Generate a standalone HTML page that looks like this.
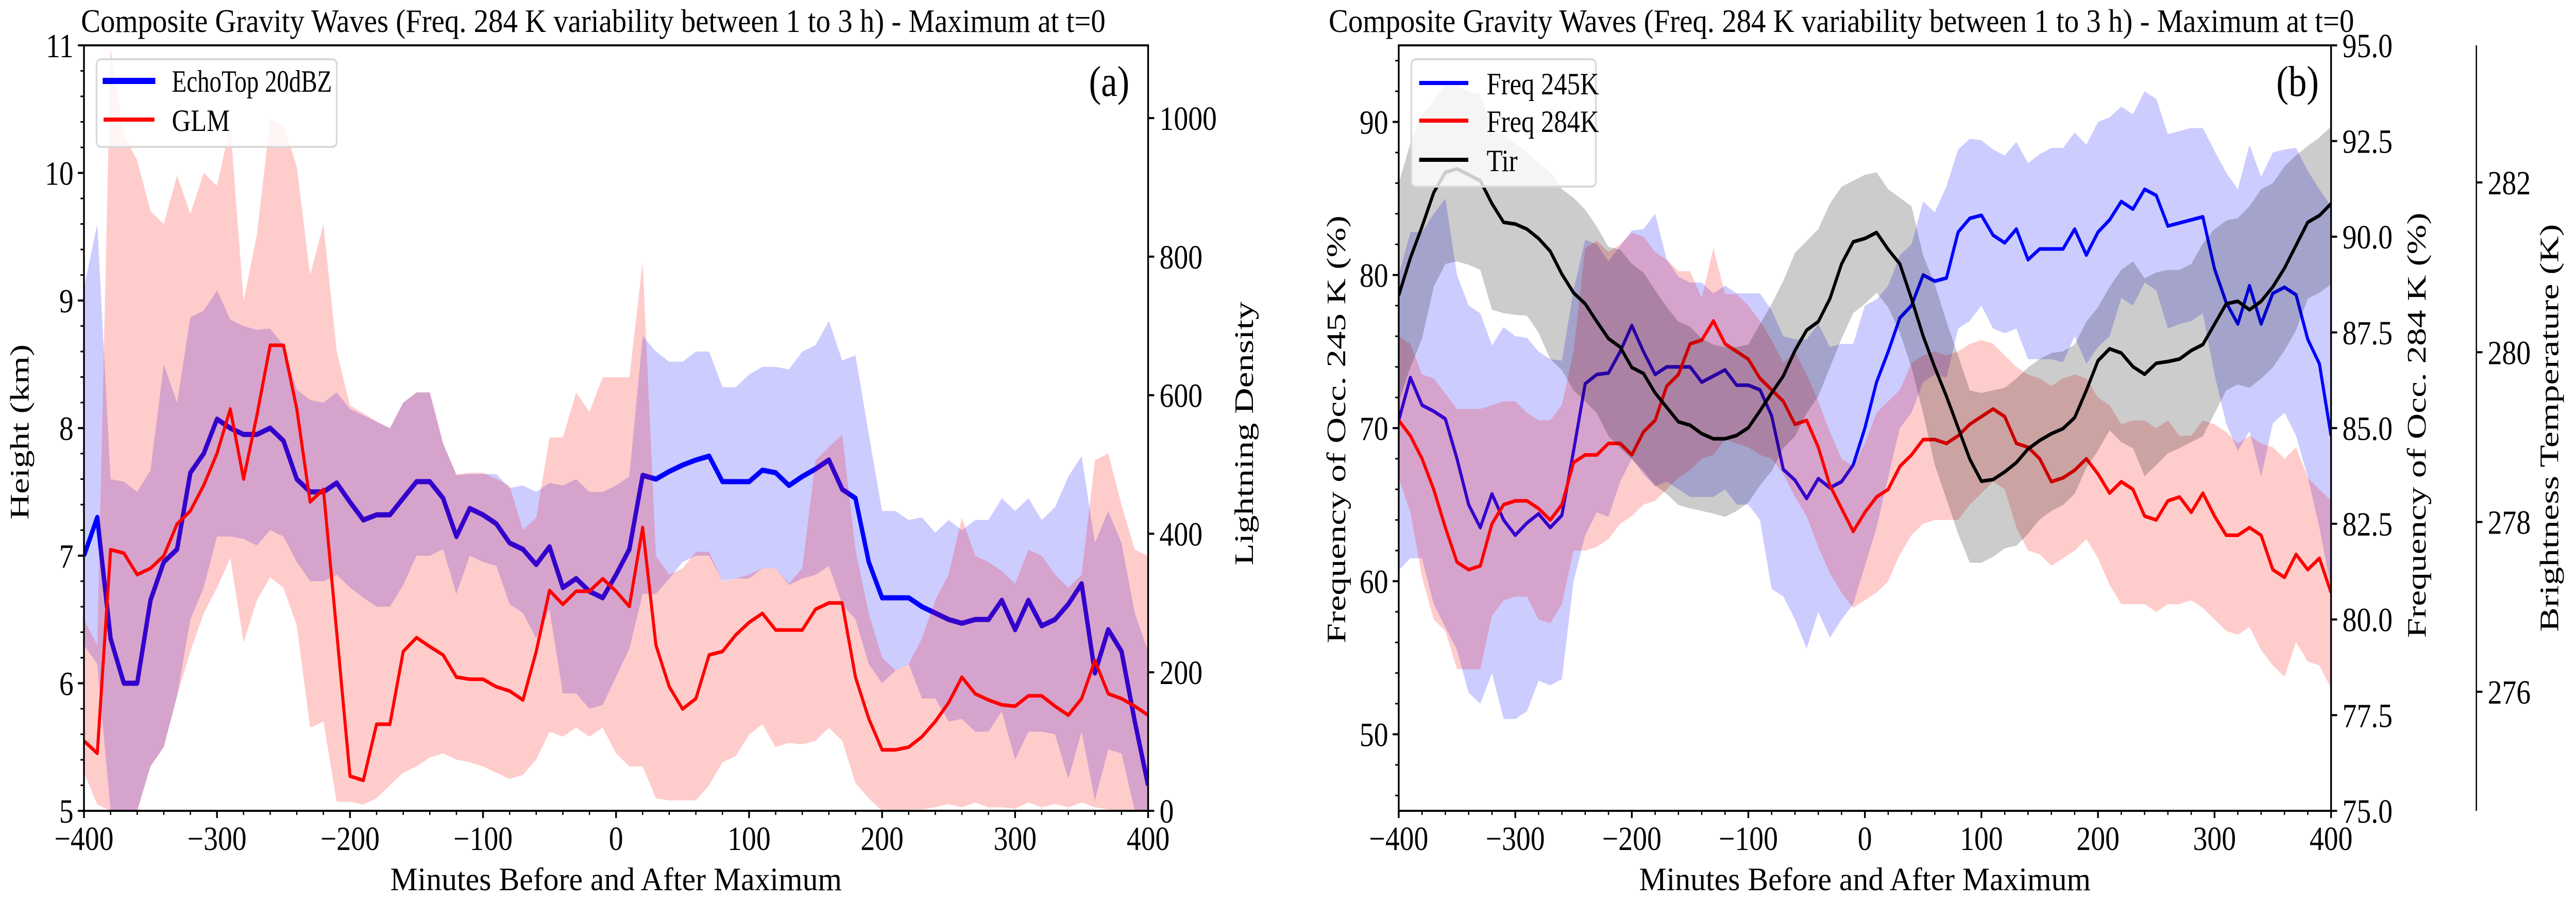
<!DOCTYPE html>
<html><head><meta charset="utf-8"><style>
html,body{margin:0;padding:0;background:#fff;width:100%;height:100%;overflow:hidden;}
svg{display:block;width:100vw;height:100vh;font-family:"Liberation Serif","DejaVu Serif",serif;}
</style></head><body>
<svg id="fig" viewBox="0 0 5921 1746" preserveAspectRatio="none" xmlns="http://www.w3.org/2000/svg">
<rect x="0" y="0" width="5921" height="1746" fill="#fff"/>
<g id="pa"></g>
<g id="pb"></g>
</svg>
<script>
// ---- shared x categories (minutes) ----
const minutes = [];
for (let t = -400; t <= 400; t += 10) minutes.push(t);

// ---- Panel (a) data ----
const echoMean = [7.0,7.3,6.35,6.0,6.0,6.65,6.95,7.05,7.65,7.8,8.07,8.0,7.95,7.95,8.0,7.9,7.6,7.5,7.5,7.57,7.42,7.28,7.32,7.32,7.45,7.58,7.58,7.45,7.15,7.37,7.32,7.25,7.1,7.05,6.93,7.07,6.75,6.82,6.72,6.67,6.85,7.05,7.63,7.6,7.66,7.71,7.75,7.78,7.58,7.58,7.58,7.67,7.65,7.55,7.62,7.68,7.75,7.52,7.45,6.95,6.67,6.67,6.67,6.6,6.55,6.5,6.47,6.5,6.5,6.65,6.42,6.65,6.45,6.5,6.62,6.78,6.08,6.42,6.25,5.7,5.2];
const echoUpper = [9.1,9.6,7.6,7.58,7.5,7.67,8.5,8.2,8.87,8.92,9.08,8.85,8.8,8.77,8.78,8.65,8.3,8.22,8.2,8.28,8.15,8.1,8.05,8.0,8.2,8.28,8.28,7.88,7.63,7.64,7.64,7.64,7.53,7.55,7.5,7.57,7.55,7.6,7.5,7.5,7.55,7.62,8.72,8.6,8.52,8.52,8.6,8.6,8.32,8.32,8.42,8.48,8.48,8.46,8.6,8.65,8.84,8.53,8.57,7.95,7.35,7.35,7.28,7.3,7.18,7.28,7.2,7.28,7.28,7.45,7.35,7.45,7.28,7.38,7.62,7.78,7.1,7.35,7.1,6.55,6.25];
const echoLower = [6.3,6.15,5.0,5.0,5.0,5.35,5.5,5.9,6.5,6.75,7.15,7.15,7.13,7.08,7.2,7.15,6.95,6.8,6.8,6.85,6.75,6.67,6.6,6.6,6.77,7.0,7.0,7.05,6.7,7.0,6.95,6.92,6.62,6.55,6.35,6.58,5.92,5.92,5.8,5.83,6.05,6.27,6.7,6.7,6.82,6.95,7.0,7.0,6.8,6.82,6.82,6.9,6.9,6.77,6.82,6.85,6.92,6.62,6.5,6.15,6.0,6.1,6.15,5.88,5.88,5.7,5.72,5.62,5.62,5.78,5.4,5.62,5.62,5.6,5.25,5.62,5.08,5.48,5.45,5.0,5.0];
const glmMean = [101,83,377,372,341,350,368,414,433,470,516,580,479,571,672,672,580,446,464,258,50,44,125,125,230,250,237,225,193,190,190,179,173,160,230,318,298,317,317,335,317,295,409,239,179,147,162,225,230,254,272,285,261,261,261,291,300,300,193,133,88,88,92,107,129,156,193,169,160,153,151,166,166,151,138,162,217,169,162,151,138];
const glmUpper = [276,239,1100,976,939,866,847,917,862,921,902,990,736,832,998,990,930,773,847,663,585,574,562,552,589,604,604,530,486,488,488,479,469,405,423,539,539,604,576,626,626,626,792,368,341,350,374,374,331,335,341,350,350,328,350,506,525,543,377,285,221,203,212,249,304,341,423,368,359,346,328,377,368,341,322,341,506,516,442,377,368];
const glmLower = [55,9,0,0,0,64,92,166,230,285,322,365,243,304,337,322,267,120,129,13,13,9,18,37,55,64,77,83,74,70,64,55,46,52,74,114,107,120,107,120,83,64,64,18,15,15,15,37,70,79,110,125,92,98,96,101,120,101,40,18,0,0,2,2,5,10,5,12,5,5,3,12,5,10,5,12,5,2,0,0,0];
const aXTicks = [-400,-300,-200,-100,0,100,200,300,400];
const aYTicks = [5,6,7,8,9,10,11];
const aY2Ticks = [0,200,400,600,800,1000];

// ---- Panel (b) data ----
const f245Mean = [70.5,73.3,71.5,71.1,70.6,68.0,65.0,63.5,65.7,64.0,63.0,63.8,64.4,63.5,64.3,68.5,72.9,73.5,73.6,75.0,76.7,75.0,73.5,74.0,74.0,74.0,73.0,73.4,73.8,72.8,72.8,72.5,70.8,67.3,66.6,65.4,66.7,66.1,66.5,67.6,70.0,73.0,75.0,77.2,78.0,80.0,79.6,79.8,82.8,83.7,83.9,82.6,82.1,83.0,81.0,81.7,81.7,81.7,83.0,81.3,82.8,83.6,84.8,84.3,85.6,85.2,83.2,83.4,83.6,83.8,80.4,78.2,76.8,79.3,76.8,78.8,79.2,78.7,75.8,74.2,69.5];
const f245Upper = [80.0,82.8,82.8,84.0,85.0,80.0,78.0,77.5,75.4,76.6,76.0,75.9,75.0,74.5,74.4,79.0,82.3,82.0,80.9,81.9,82.9,83.0,84.0,81.0,79.9,79.5,79.5,78.8,79.3,78.8,78.8,78.8,77.7,76.0,75.8,75.8,76.8,75.3,75.5,75.5,78.0,78.4,79.3,81.3,82.0,84.8,84.1,85.8,88.2,88.9,88.8,88.2,87.8,88.7,87.3,87.9,88.3,88.3,89.3,88.5,90.0,90.3,91.0,90.5,92.0,91.5,89.2,89.4,89.6,89.6,88.1,86.7,85.6,88.5,86.4,88.0,88.2,88.3,86.8,85.6,84.5];
const f245Lower = [60.7,61.5,61.5,58.5,57.0,55.5,52.7,52.0,54.0,51.0,51.0,51.5,53.5,53.2,53.6,60.0,63.0,64.5,64.2,66.5,68.0,67.0,66.2,66.5,66.0,65.5,65.5,65.5,66.0,65.0,65.0,64.0,59.5,59.0,57.5,55.6,58.0,56.3,57.5,58.5,61.0,63.5,66.8,70.0,71.0,73.0,73.5,73.3,76.5,77.0,78.0,76.5,76.2,76.5,74.5,74.5,74.5,74.3,76.0,74.2,75.3,76.0,78.5,78.0,79.5,79.0,76.5,76.8,77.0,77.5,73.5,70.3,68.5,69.8,66.8,70.3,71.0,69.5,66.8,63.5,59.5];
const f284Mean = [85.2,84.8,84.2,83.4,82.4,81.5,81.3,81.4,82.5,83.0,83.1,83.1,82.9,82.6,83.0,84.1,84.3,84.3,84.6,84.6,84.3,84.9,85.2,86.1,86.4,87.2,87.3,87.8,87.2,87.0,86.8,86.3,86.0,85.7,85.1,85.2,84.5,83.5,82.9,82.3,82.8,83.2,83.4,84.0,84.3,84.7,84.7,84.6,84.8,85.1,85.3,85.5,85.3,84.6,84.5,84.2,83.6,83.7,83.9,84.2,83.8,83.3,83.6,83.4,82.7,82.6,83.1,83.2,82.8,83.3,82.7,82.2,82.2,82.4,82.2,81.3,81.1,81.7,81.3,81.6,80.7];
const f284Upper = [87.4,87.2,86.4,86.3,85.9,85.5,85.5,85.5,85.6,85.7,85.7,85.4,85.2,85.2,85.6,87.0,89.7,89.9,89.6,89.8,90.1,90.0,89.6,89.4,89.1,89.1,88.4,89.7,88.5,88.5,88.2,87.8,87.3,86.7,87.0,86.4,85.7,84.9,84.2,84.0,84.6,85.4,85.7,86.0,86.7,86.9,87.0,86.9,87.0,87.2,87.3,87.2,86.9,86.6,86.4,86.3,86.1,86.3,86.4,86.3,85.8,85.6,85.1,85.2,85.2,85.0,85.2,84.8,84.8,85.2,85.1,84.9,84.6,84.8,84.6,84.5,84.2,84.5,83.7,83.4,83.1];
const f284Lower = [83.7,82.8,81.1,80.0,79.7,78.7,78.7,78.7,80.1,80.5,80.6,80.6,80.0,79.9,80.4,81.8,81.8,81.9,82.1,82.5,82.7,83.0,83.1,83.4,83.7,83.9,84.2,84.3,84.7,84.6,84.5,84.3,84.2,83.8,83.2,82.7,81.9,81.2,80.7,80.3,80.5,80.7,81.0,81.7,82.2,82.5,82.6,82.6,82.6,83.0,83.3,83.6,83.4,82.4,81.8,81.7,81.4,81.6,81.8,82.1,81.6,80.9,80.4,80.4,80.4,80.2,80.4,80.4,80.5,80.3,80.0,79.7,79.6,79.8,79.2,78.8,78.5,79.4,78.9,78.8,78.2];
const tirMean = [280.67,281.11,281.48,281.88,282.12,282.16,282.09,282.02,281.75,281.53,281.51,281.45,281.34,281.19,280.92,280.70,280.57,280.36,280.16,280.06,279.82,279.75,279.52,279.35,279.18,279.14,279.04,278.98,278.98,279.02,279.11,279.31,279.52,279.72,280.02,280.26,280.36,280.63,281.04,281.30,281.34,281.41,281.21,281.04,280.63,280.19,279.82,279.48,279.11,278.74,278.48,278.50,278.59,278.70,278.86,278.96,279.04,279.10,279.23,279.55,279.90,280.04,279.99,279.83,279.74,279.87,279.89,279.92,280.02,280.09,280.33,280.57,280.60,280.50,280.60,280.77,280.99,281.26,281.53,281.61,281.75];
const tirUpper = [281.99,282.46,282.80,282.97,283.14,283.14,283.07,283.04,282.63,282.56,282.46,282.36,282.22,282.12,281.92,281.82,281.68,281.48,281.24,281.21,281.04,280.94,280.73,280.53,280.36,280.30,280.16,280.09,280.06,280.06,280.09,280.33,280.57,280.84,281.17,281.31,281.45,281.75,281.95,282.02,282.09,282.12,281.92,281.82,281.72,281.14,280.80,280.36,279.96,279.55,279.52,279.55,279.58,279.69,279.82,279.92,279.99,280.01,280.09,280.36,280.53,280.77,280.97,281.07,280.87,280.94,280.97,280.97,281.04,281.28,281.45,281.55,281.58,281.72,281.92,281.99,282.19,282.32,282.43,282.53,282.66];
const tirLower = [279.42,279.82,280.16,280.77,281.04,281.07,281.03,280.97,280.50,280.46,280.44,280.43,280.23,279.92,279.79,279.55,279.42,279.28,279.01,278.87,278.74,278.60,278.43,278.33,278.20,278.16,278.13,278.10,278.06,278.13,278.23,278.43,278.60,278.87,279.01,279.28,279.48,279.82,280.16,280.46,280.57,280.70,280.53,280.23,279.82,279.28,278.67,278.27,277.86,277.52,277.52,277.59,277.69,277.72,277.86,278.03,278.13,278.20,278.33,278.64,278.84,279.08,278.94,278.87,278.54,278.67,278.81,278.87,278.94,279.01,279.28,279.55,279.62,279.58,279.69,279.82,280.02,280.26,280.63,280.70,280.80];
const bXTicks = [-400,-300,-200,-100,0,100,200,300,400];
const bYTicks = [50,60,70,80,90];
const bY2Ticks = [75.0,77.5,80.0,82.5,85.0,87.5,90.0,92.5,95.0];
const bY3Ticks = [276,278,280,282];

const NS = "http://www.w3.org/2000/svg";
function mk(parent, tag, attrs, text) {
  const e = document.createElementNS(NS, tag);
  for (const k in attrs) e.setAttribute(k, attrs[k]);
  if (text !== undefined) e.textContent = text;
  parent.appendChild(e);
  return e;
}
function lin(d0, d1, r0, r1) { return v => r0 + (v - d0) * (r1 - r0) / (d1 - d0); }
function linePath(xs, ys, fx, fy) {
  return xs.map((x, i) => (i ? "L" : "M") + fx(x).toFixed(1) + "," + fy(ys[i]).toFixed(1)).join("");
}
function bandPath(xs, up, lo, fx, fy) {
  let d = xs.map((x, i) => (i ? "L" : "M") + fx(x).toFixed(1) + "," + fy(up[i]).toFixed(1)).join("");
  for (let i = xs.length - 1; i >= 0; i--) d += "L" + fx(xs[i]).toFixed(1) + "," + fy(lo[i]).toFixed(1);
  return d + "Z";
}
function fmtMinus(v) { return v < 0 ? "\u2212" + Math.abs(v) : String(v); }

function xAxis(g, fx, L, R, B, ticks) {
  for (let t = -400; t <= 400; t += 20) {
    const tk = mk(g, "line", {x1: fx(t), x2: fx(t), y1: B, y2: B + 8, stroke: "#000", "stroke-width": 3});
    
    
  }
  ticks.forEach(t => {
    const tk = mk(g, "line", {x1: fx(t), x2: fx(t), y1: B, y2: B + 14, stroke: "#000", "stroke-width": 4});
    
    
    const lb = mk(g, "text", {x: fx(t), y: B + 76, "font-size": 66, "text-anchor": "middle"}, fmtMinus(t));
    
    
  });
  const xl = mk(g, "text", {x: (L + R) / 2, y: 1727, "font-size": 64, "text-anchor": "middle", textLength: 1038, lengthAdjust: "spacingAndGlyphs"}, "Minutes Before and After Maximum");
  
  
}
function vLabel(g, x, y, len, txt, name) {
  const t = mk(g, "text", {x: x, y: y, "font-size": 62, "text-anchor": "middle", transform: "rotate(-90 " + x + " " + y + ")", textLength: len, lengthAdjust: "spacingAndGlyphs"}, txt);
  
  
}
function title(g, x, len) {
  const t = mk(g, "text", {x: x, y: 62, "font-size": 64, textLength: len, lengthAdjust: "spacingAndGlyphs"}, "Composite Gravity Waves (Freq. 284 K variability between 1 to 3 h) - Maximum at t=0");
  
  
}

// ================= Panel A =================
(function () {
  const g = document.getElementById("pa");
  const L = 193, R = 2639, T = 88, B = 1573;
  const fx = lin(-400, 400, L, R);
  const fy = lin(5, 11, B, T);
  const fy2 = lin(0, 1105, B, T);
  const cp = mk(g, "clipPath", {id: "clipA"});
  mk(cp, "rect", {x: L, y: T, width: R - L, height: B - T});
  const pg = mk(g, "g", {"clip-path": "url(#clipA)"});
  const b1 = mk(pg, "path", {d: bandPath(minutes, echoUpper, echoLower, fx, fy), fill: "rgba(0,0,255,0.2)"});
  
  
  const l1 = mk(pg, "path", {d: linePath(minutes, echoMean, fx, fy), fill: "none", stroke: "#0000ff", "stroke-width": 10, "stroke-linejoin": "round"});
  
  
  const b2 = mk(pg, "path", {d: bandPath(minutes, glmUpper, glmLower, fx, fy2), fill: "rgba(255,0,0,0.2)"});
  
  
  const l2 = mk(pg, "path", {d: linePath(minutes, glmMean, fx, fy2), fill: "none", stroke: "#ff0000", "stroke-width": 7, "stroke-linejoin": "round"});
  
  
  const fr = mk(g, "rect", {x: L, y: T, width: R - L, height: B - T, fill: "none", stroke: "#000", "stroke-width": 4});
  
  
  for (let v = 5; v <= 11.001; v += 0.2) {
    const tk = mk(g, "line", {x1: L - 8, x2: L, y1: fy(v), y2: fy(v), stroke: "#000", "stroke-width": 3});
    
    
  }
  aYTicks.forEach(v => {
    const tk = mk(g, "line", {x1: L - 14, x2: L, y1: fy(v), y2: fy(v), stroke: "#000", "stroke-width": 4});
    
    
    const lb = mk(g, "text", {x: L - 24, y: fy(v) + 23, "font-size": 66, "text-anchor": "end"}, String(v));
    
    
  });
  aY2Ticks.forEach(v => {
    const tk = mk(g, "line", {x1: R, x2: R + 14, y1: fy2(v), y2: fy2(v), stroke: "#000", "stroke-width": 4});
    
    
    const lb = mk(g, "text", {x: R + 26, y: fy2(v) + 23, "font-size": 66}, String(v));
    
    
  });
  xAxis(g, fx, L, R, B, aXTicks);
  vLabel(g, 66, 838, 340, "Height (km)", "y-axis-title");
  vLabel(g, 2880, 841, 512, "Lightning Density", "y2-axis-title");
  title(g, 186, 2355);
  const pl = mk(g, "text", {x: 2596, y: 186, "font-size": 84, "text-anchor": "end"}, "(a)");
  
  
  const lg = mk(g, "g", {});
  
  
  mk(lg, "rect", {x: 222, y: 115, width: 552, height: 170, rx: 10, fill: "rgba(255,255,255,0.8)", stroke: "#d9d9d9", "stroke-width": 4});
  const e1 = mk(lg, "g", {});
  
  
  mk(e1, "line", {x1: 236, x2: 357, y1: 157, y2: 157, stroke: "#0000ff", "stroke-width": 12});
  mk(e1, "text", {x: 395, y: 178, "font-size": 60, textLength: 368, lengthAdjust: "spacingAndGlyphs"}, "EchoTop 20dBZ");
  const e2 = mk(lg, "g", {});
  
  
  mk(e2, "line", {x1: 238, x2: 355, y1: 232, y2: 232, stroke: "#ff0000", "stroke-width": 8});
  mk(e2, "text", {x: 395, y: 254, "font-size": 60}, "GLM");
})();

// ================= Panel B =================
(function () {
  const g = document.getElementById("pb");
  const L = 3215, R = 5358, T = 88, B = 1573, S3 = 5692;
  const fx = lin(-400, 400, L, R);
  const fy = lin(45, 95, B, T);
  const fy2 = lin(75, 95, B, T);
  const fy3 = lin(274.597, 283.615, B, T);
  const cp = mk(g, "clipPath", {id: "clipB"});
  mk(cp, "rect", {x: L, y: T, width: R - L, height: B - T});
  const pg = mk(g, "g", {"clip-path": "url(#clipB)"});
  const b1 = mk(pg, "path", {d: bandPath(minutes, f245Upper, f245Lower, fx, fy), fill: "rgba(0,0,255,0.2)"});
  
  
  const l1 = mk(pg, "path", {d: linePath(minutes, f245Mean, fx, fy), fill: "none", stroke: "#0000ff", "stroke-width": 7, "stroke-linejoin": "round"});
  
  
  const b2 = mk(pg, "path", {d: bandPath(minutes, f284Upper, f284Lower, fx, fy2), fill: "rgba(255,0,0,0.2)"});
  
  
  const l2 = mk(pg, "path", {d: linePath(minutes, f284Mean, fx, fy2), fill: "none", stroke: "#ff0000", "stroke-width": 7, "stroke-linejoin": "round"});
  
  
  const b3 = mk(pg, "path", {d: bandPath(minutes, tirUpper, tirLower, fx, fy3), fill: "rgba(0,0,0,0.2)"});
  
  
  const l3 = mk(pg, "path", {d: linePath(minutes, tirMean, fx, fy3), fill: "none", stroke: "#000", "stroke-width": 7, "stroke-linejoin": "round"});
  
  
  const fr = mk(g, "rect", {x: L, y: T, width: R - L, height: B - T, fill: "none", stroke: "#000", "stroke-width": 4});
  
  
  const sp = mk(g, "line", {x1: S3, x2: S3, y1: T, y2: B, stroke: "#000", "stroke-width": 3});
  
  
  for (let v = 46; v <= 94; v += 2) {
    const tk = mk(g, "line", {x1: L - 8, x2: L, y1: fy(v), y2: fy(v), stroke: "#000", "stroke-width": 3});
    
    
  }
  bYTicks.forEach(v => {
    const tk = mk(g, "line", {x1: L - 14, x2: L, y1: fy(v), y2: fy(v), stroke: "#000", "stroke-width": 4});
    
    
    const lb = mk(g, "text", {x: L - 24, y: fy(v) + 23, "font-size": 66, "text-anchor": "end"}, String(v));
    
    
  });
  bY2Ticks.forEach(v => {
    const tk = mk(g, "line", {x1: R, x2: R + 14, y1: fy2(v), y2: fy2(v), stroke: "#000", "stroke-width": 4});
    
    
    const lb = mk(g, "text", {x: R + 26, y: fy2(v) + 23, "font-size": 66}, v.toFixed(1));
    
    
  });
  bY3Ticks.forEach(v => {
    const tk = mk(g, "line", {x1: S3, x2: S3 + 14, y1: fy3(v), y2: fy3(v), stroke: "#000", "stroke-width": 4});
    
    
    const lb = mk(g, "text", {x: S3 + 26, y: fy3(v) + 23, "font-size": 66}, String(v));
    
    
  });
  xAxis(g, fx, L, R, B, bXTicks);
  vLabel(g, 3092, 833, 830, "Frequency of Occ. 245 K (%)", "y-axis-title");
  vLabel(g, 5575, 825, 825, "Frequency of Occ. 284 K (%)", "y2-axis-title");
  vLabel(g, 5880, 830, 791, "Brightness Temperature (K)", "y3-axis-title");
  title(g, 3054, 2357);
  const pl = mk(g, "text", {x: 5330, y: 186, "font-size": 84, "text-anchor": "end"}, "(b)");
  
  
  const lg = mk(g, "g", {});
  
  
  mk(lg, "rect", {x: 3244, y: 115, width: 424, height: 247, rx: 10, fill: "rgba(255,255,255,0.8)", stroke: "#d9d9d9", "stroke-width": 4});
  const ents = [["Freq 245K", "#0000ff", 161, "legend-entry-freq245"], ["Freq 284K", "#ff0000", 234, "legend-entry-freq284"], ["Tir", "#000", 310, "legend-entry-tir"]];
  ents.forEach(en => {
    const e = mk(lg, "g", {});
    
    
    mk(e, "line", {x1: 3262, x2: 3375, y1: en[2], y2: en[2], stroke: en[1], "stroke-width": 8});
    mk(e, "text", {x: 3417, y: en[2] + 22, "font-size": 60}, en[0]);
  });
})();
</script>
</body></html>
